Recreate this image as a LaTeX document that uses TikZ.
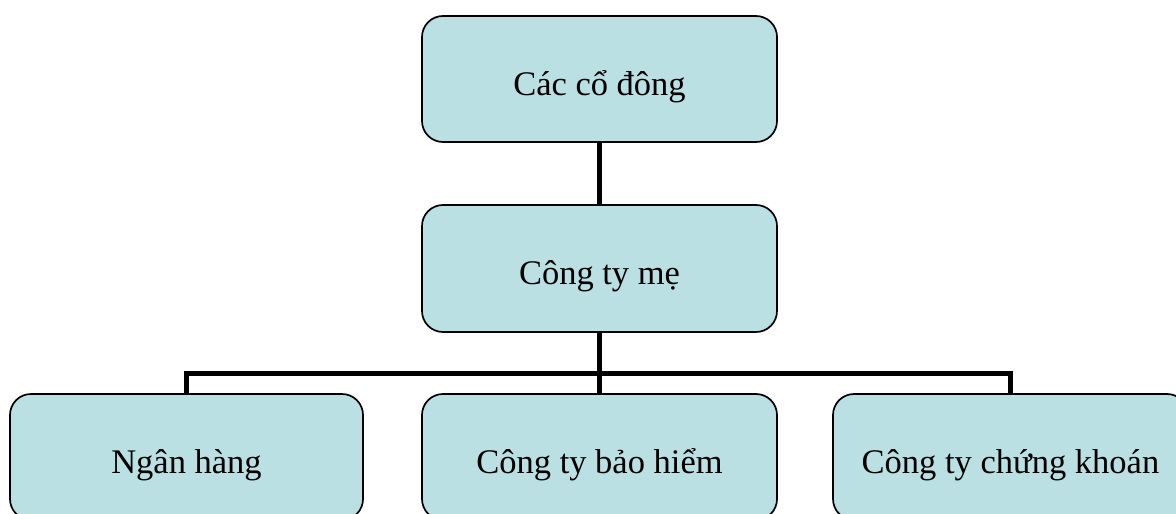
\documentclass[tikz,border=0pt]{standalone}
\usepackage{fontspec}
\setmainfont{Liberation Serif}
\definecolor{boxfill}{RGB}{187,224,227}
\begin{document}
\begin{tikzpicture}[x=1pt,y=-1pt,
  orgbox/.style={draw=black, line width=1.7pt, fill=boxfill,
    rounded corners=21pt, minimum width=355pt, minimum height=126pt,
    inner sep=0pt, text height=32pt, text depth=0pt,
    font=\fontsize{34.5}{40}\selectfont},
  link/.style={draw=black, line width=5pt, line join=miter}]
\useasboundingbox (0,0) rectangle (1176,514);
\clip (0,0) rectangle (1176,514);

% ownership chain
\node[orgbox] (owners) at (599.5,79) {Các cổ đông};
\node[orgbox, minimum height=127pt] (parent) at (599.5,268.5) {Công ty mẹ};

% subsidiaries
\node[orgbox, minimum width=353pt] (bank) at (186.5,457) {Ngân hàng};
\node[orgbox] (insur) at (599.5,457) {Công ty bảo hiểm};
\node[orgbox] (secur) at (1010.5,457) {Công ty chứng khoán};

\coordinate (bus) at (599.5,373);

% connectors
\draw[link] (owners.south) -- (parent.north);
\draw[link] (parent.south) -- (insur.north);
\draw[link] (bank.north) |- (bus) -| (secur.north);
\end{tikzpicture}
\end{document}
